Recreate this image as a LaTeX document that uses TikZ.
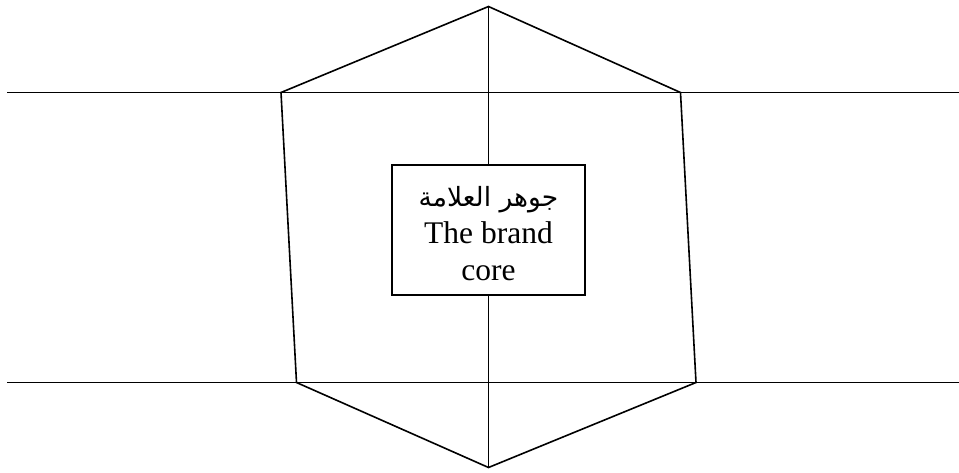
\documentclass[tikz,border=0pt]{standalone}
\usepackage{fontspec}
\setmainfont{Liberation Serif}
\newfontfamily\arabicfont[Script=Arabic]{DejaVu Sans}
\TeXXeTstate=1
\begin{document}
\begin{tikzpicture}[x=1pt,y=-1pt,
  edge/.style={draw=black,line width=1.6pt,line cap=rect},
  corebox/.style={draw=black,line width=1.6pt,fill=white,inner sep=0pt,
    minimum width=193pt,minimum height=130pt},
  coretext/.style={inner sep=0pt,align=center,
    font=\fontsize{31.5}{37}\selectfont}]
\useasboundingbox (0,0) rectangle (959,472);
% coordinates
\coordinate (L1) at (8,92.5);
\coordinate (R1) at (959,92.5);
\coordinate (L2) at (8,382.5);
\coordinate (R2) at (959,382.5);
\coordinate (top) at (488.5,6.5);
\coordinate (bot) at (488.5,467.5);
\coordinate (tl) at (281,92.5);
\coordinate (tr) at (680.5,92.5);
\coordinate (bl) at (296.5,382.5);
\coordinate (br) at (696,382.5);
% horizontal lines
\draw[edge] (L1) -- (R1);
\draw[edge] (L2) -- (R2);
% hexagon
\draw[edge,line join=miter] (top) -- (tr) -- (br) -- (bot) -- (bl) -- (tl) -- cycle;
% vertical line
\draw[edge] (top) -- (bot);
% core box
\node[corebox] (core) at (488.5,230) {};
\node[coretext] (coretxt) at (488.5,234) {{\arabicfont\fontsize{26.5}{37}\selectfont\beginR جوهر العلامة\endR}\\The brand\\core};
\end{tikzpicture}
\end{document}
